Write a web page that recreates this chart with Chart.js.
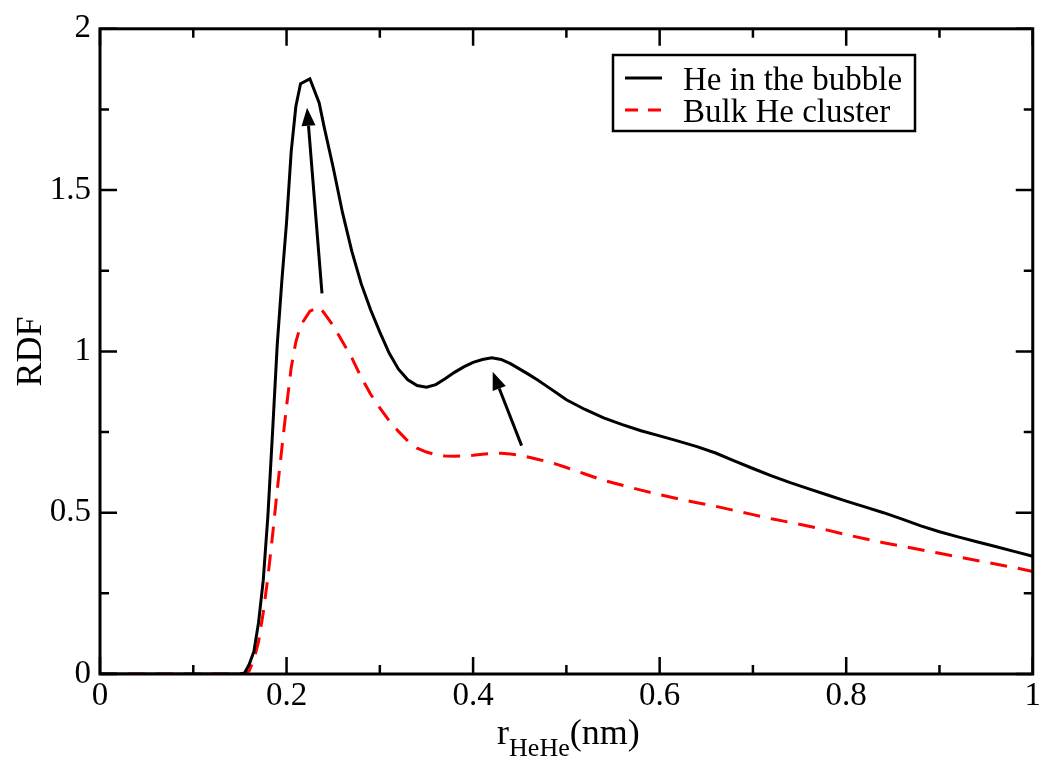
<!DOCTYPE html>
<html>
<head>
<meta charset="utf-8">
<script src="https://cdn.jsdelivr.net/npm/chart.js@4.4.0/dist/chart.umd.min.js"></script>
<style>
  html, body { margin: 0; padding: 0; background: #fff; }
  canvas { display: block; }
</style>
</head>
<body>
<canvas id="rdfChart" width="1044" height="769"></canvas>
<script>
// r (nm)
const rValues = [0, 0.05, 0.1, 0.15, 0.155, 0.16, 0.165, 0.17, 0.175, 0.18, 0.185, 0.19, 0.195, 0.2,
  0.205, 0.21, 0.215, 0.225, 0.235, 0.24, 0.25, 0.26, 0.27, 0.28, 0.29, 0.3, 0.31, 0.32, 0.33,
  0.34, 0.35, 0.36, 0.37, 0.38, 0.39, 0.4, 0.41, 0.42, 0.43, 0.44, 0.45, 0.46, 0.47, 0.48, 0.49,
  0.5, 0.52, 0.54, 0.56, 0.58, 0.6, 0.62, 0.64, 0.66, 0.68, 0.7, 0.72, 0.74, 0.76, 0.78, 0.8,
  0.82, 0.84, 0.86, 0.88, 0.9, 0.92, 0.94, 0.96, 0.98, 1.0];
// He in the bubble
const bubbleRdf = [0, 0, 0, 0, 0.003, 0.03, 0.07, 0.16, 0.29, 0.49, 0.75, 1.02, 1.22, 1.40,
  1.62, 1.76, 1.83, 1.845, 1.77, 1.70, 1.57, 1.43, 1.31, 1.21, 1.13, 1.06, 0.995, 0.945, 0.912,
  0.894, 0.889, 0.897, 0.915, 0.935, 0.952, 0.966, 0.975, 0.98, 0.975, 0.962, 0.945, 0.928, 0.91, 0.89, 0.87,
  0.85, 0.82, 0.794, 0.773, 0.754, 0.738, 0.722, 0.705, 0.685, 0.661, 0.637, 0.614, 0.593, 0.574, 0.555, 0.536,
  0.518, 0.50, 0.48, 0.459, 0.441, 0.425, 0.41, 0.395, 0.38, 0.365];
// Bulk He cluster
const bulkRdf = [0, 0, 0, 0, 0, 0.01, 0.045, 0.10, 0.19, 0.30, 0.43, 0.57, 0.70, 0.83,
  0.95, 1.03, 1.08, 1.125, 1.138, 1.12, 1.08, 1.03, 0.98, 0.92, 0.868, 0.825, 0.785, 0.752, 0.722,
  0.70, 0.688, 0.68, 0.676, 0.675, 0.676, 0.678, 0.681, 0.684, 0.684, 0.682, 0.678, 0.672, 0.665, 0.658, 0.65,
  0.64, 0.62, 0.60, 0.585, 0.57, 0.556, 0.543, 0.531, 0.52, 0.507, 0.494, 0.481, 0.47, 0.458, 0.446, 0.432,
  0.419, 0.407, 0.396, 0.385, 0.374, 0.363, 0.352, 0.341, 0.33, 0.318];

const seriesNames = ['He in the bubble', 'Bulk He cluster'];
const xTicks = [0, 0.2, 0.4, 0.6, 0.8, 1];
const yTicks = [0, 0.5, 1, 1.5, 2];
// annotation arrows, tail -> head, in data units
const arrowTails = [[0.238, 1.18], [0.452, 0.708]];
const arrowHeads = [[0.222, 1.755], [0.421, 0.937]];

const FONT = '"Liberation Serif", "Times New Roman", serif';

function minorBetween(ticks) {
  const out = [];
  for (let i = 0; i < ticks.length - 1; i++) out.push((ticks[i] + ticks[i + 1]) / 2);
  return out;
}

const decorPlugin = {
  id: 'decor',
  afterDraw(chart) {
    const ctx = chart.ctx;
    const a = chart.chartArea;
    const xs = chart.scales.x, ys = chart.scales.y;
    ctx.save();

    // arrows
    ctx.strokeStyle = '#000';
    ctx.fillStyle = '#000';
    ctx.lineWidth = 3;
    for (let i = 0; i < arrowTails.length; i++) {
      const x0 = xs.getPixelForValue(arrowTails[i][0]), y0 = ys.getPixelForValue(arrowTails[i][1]);
      const x1 = xs.getPixelForValue(arrowHeads[i][0]), y1 = ys.getPixelForValue(arrowHeads[i][1]);
      const ang = Math.atan2(y1 - y0, x1 - x0);
      const hl = 18, hw = 7;
      const bx = x1 - hl * Math.cos(ang), by = y1 - hl * Math.sin(ang);
      ctx.beginPath();
      ctx.moveTo(x0, y0);
      ctx.lineTo(bx, by);
      ctx.stroke();
      ctx.beginPath();
      ctx.moveTo(x1, y1);
      ctx.lineTo(bx + hw * Math.sin(ang), by - hw * Math.cos(ang));
      ctx.lineTo(bx - hw * Math.sin(ang), by + hw * Math.cos(ang));
      ctx.closePath();
      ctx.fill();
    }

    // frame + inward ticks on all sides
    ctx.lineWidth = 3;
    ctx.strokeRect(a.left, a.top, a.right - a.left, a.bottom - a.top);
    ctx.lineWidth = 2.5;
    ctx.beginPath();
    const tickX = (v, len) => {
      const p = xs.getPixelForValue(v);
      ctx.moveTo(p, a.bottom); ctx.lineTo(p, a.bottom - len);
      ctx.moveTo(p, a.top); ctx.lineTo(p, a.top + len);
    };
    const tickY = (v, len) => {
      const p = ys.getPixelForValue(v);
      ctx.moveTo(a.left, p); ctx.lineTo(a.left + len, p);
      ctx.moveTo(a.right, p); ctx.lineTo(a.right - len, p);
    };
    xTicks.forEach(v => tickX(v, 17));
    minorBetween(xTicks).forEach(v => tickX(v, 9));
    yTicks.forEach(v => tickY(v, 17));
    minorBetween(yTicks).forEach(v => tickY(v, 9));
    ctx.stroke();

    // legend
    const lx = 613, ly = 55, lw = 302, lh = 76;
    ctx.lineWidth = 2.5;
    ctx.strokeRect(lx, ly, lw, lh);
    ctx.font = '33px ' + FONT;
    ctx.textBaseline = 'alphabetic';
    ctx.textAlign = 'left';
    ctx.fillStyle = '#000';
    ctx.lineWidth = 3;
    ctx.beginPath();
    ctx.moveTo(625, 78); ctx.lineTo(662, 78);
    ctx.stroke();
    ctx.fillText(seriesNames[0], 683, 90);
    ctx.strokeStyle = '#ff0000';
    ctx.setLineDash([13, 10]);
    ctx.beginPath();
    ctx.moveTo(625, 110); ctx.lineTo(662, 110);
    ctx.stroke();
    ctx.setLineDash([]);
    ctx.fillText(seriesNames[1], 683, 122);

    // x title with subscript
    const big = '36px ' + FONT, small = '26px ' + FONT;
    ctx.font = big;
    const wR = ctx.measureText('r').width, wN = ctx.measureText('(nm)').width;
    ctx.font = small;
    const wS = ctx.measureText('HeHe').width;
    let tx = (a.left + a.right) / 2 - (wR + wS + wN) / 2 + 2;
    const base = 744;
    ctx.font = big;
    ctx.fillText('r', tx, base);
    tx += wR;
    ctx.font = small;
    ctx.fillText('HeHe', tx, base + 12);
    tx += wS;
    ctx.font = big;
    ctx.fillText('(nm)', tx, base);

    // y title
    ctx.save();
    ctx.translate(41, (a.top + a.bottom) / 2);
    ctx.rotate(-Math.PI / 2);
    ctx.textAlign = 'center';
    ctx.font = big;
    ctx.fillText('RDF', 0, 0);
    ctx.restore();

    ctx.restore();
  }
};

const ctx = document.getElementById('rdfChart').getContext('2d');
const rdfChart = new Chart(ctx, {
  type: 'line',
  data: {
    datasets: [
      {
        label: seriesNames[0],
        data: rValues.map((r, i) => ({ x: r, y: bubbleRdf[i] })),
        borderColor: '#000000',
        borderWidth: 3,
        pointRadius: 0,
        tension: 0,
        fill: false
      },
      {
        label: seriesNames[1],
        data: rValues.map((r, i) => ({ x: r, y: bulkRdf[i] })),
        borderColor: '#ff0000',
        borderWidth: 3,
        borderDash: [17, 11],
        pointRadius: 0,
        tension: 0,
        fill: false
      }
    ]
  },
  options: {
    responsive: false,
    animation: false,
    devicePixelRatio: 1,
    layout: { padding: { top: 19, right: 11, left: 0, bottom: 0 } },
    plugins: { legend: { display: false }, tooltip: { enabled: false } },
    scales: {
      x: {
        type: 'linear',
        min: 0,
        max: 1,
        afterBuildTicks: s => { s.ticks = xTicks.map(v => ({ value: v })); },
        afterFit: s => { s.height = 95; },
        grid: { display: false, drawTicks: false },
        border: { display: false },
        ticks: {
          color: '#000',
          padding: 3,
          maxRotation: 0,
          font: { family: FONT, size: 33 },
          callback: v => String(v)
        }
      },
      y: {
        type: 'linear',
        min: 0,
        max: 2,
        afterBuildTicks: s => { s.ticks = yTicks.map(v => ({ value: v })); },
        afterFit: s => { s.width = 100; },
        grid: { display: false, drawTicks: false },
        border: { display: false },
        ticks: {
          color: '#000',
          padding: 9,
          font: { family: FONT, size: 33 },
          callback: v => String(v)
        }
      }
    }
  },
  plugins: [decorPlugin]
});
</script>
</body>
</html>
